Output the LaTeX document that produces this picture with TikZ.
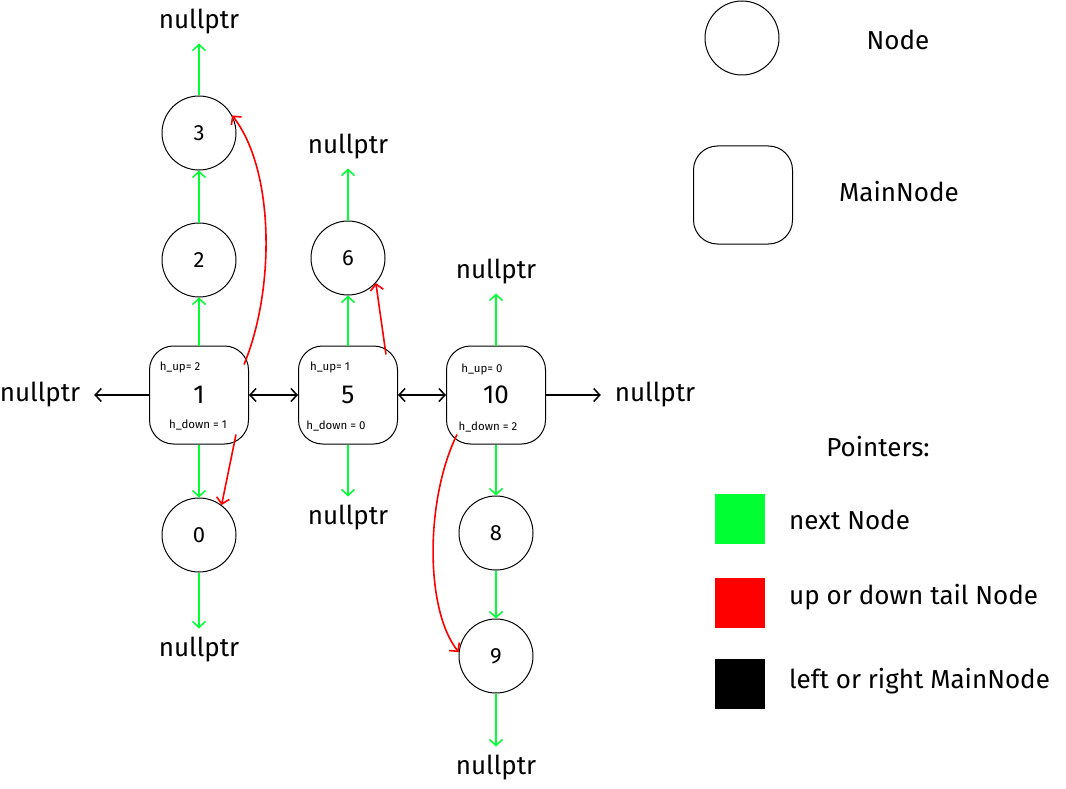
\documentclass[tikz,border=0pt]{standalone}
\usepackage{fontspec}
\setmainfont{Fira Sans}
\usetikzlibrary{arrows.meta,calc}
\definecolor{nextgreen}{HTML}{00FF33}
\definecolor{tailred}{HTML}{FF0000}

\begin{document}
\begin{tikzpicture}[
  x=1pt, y=-1pt,
  font=\fontsize{22}{26}\selectfont,
  node/.style={draw, line width=1pt, circle, minimum size=74pt, inner sep=0pt},
  mainnode/.style={draw, line width=1pt, rounded corners=24pt,
    minimum width=99pt, minimum height=98pt, inner sep=0pt, font=\fontsize{26}{30}\selectfont},
  null/.style={inner sep=0pt, outer sep=9pt, font=\fontsize{26}{30}\selectfont},
  info/.style={inner sep=0pt, font=\fontsize{11.5}{13}\selectfont},
  swatch/.style={minimum size=50pt, inner sep=0pt},
  keytext/.style={inner sep=0pt, font=\fontsize{26}{30}\selectfont},
  legend/.style={keytext, anchor=west},
  tip/.style={-{Straight Barb[length=6pt,width=13pt]}},
  next/.style={tip, draw=nextgreen, line width=1.5pt},
  tail/.style={tip, draw=tailred, line width=1.6pt},
  side/.style={{Straight Barb[length=6pt,width=13pt]}-{Straight Barb[length=6pt,width=13pt]}, line width=1.5pt},
  sidenull/.style={tip, line width=1.5pt}
]
  \useasboundingbox (0,0) rectangle (1066,789);

  \node[mainnode] (m1) at (199,395) {1};
  \node[mainnode] (m5) at (348,395) {5};
  \node[mainnode] (m10) at (496,395) {10};
  \node[info] at (180,367) {h\_up= 2};
  \node[info] at (198,425) {h\_down = 1};
  \node[info] at (330,367) {h\_up= 1};
  \node[info] at (336,426) {h\_down = 0};
  \node[info] at (482,369) {h\_up= 0};
  \node[info] at (488,427) {h\_down = 2};

  \node[node] (n2) at (199,260) {2};
  \node[node] (n3) at (199,133) {3};
  \node[node] (n0) at (199,535) {0};
  \node[node] (n6) at (348,258) {6};
  \node[node] (n8) at (496,533) {8};
  \node[node] (n9) at (496,656) {9};

  \node[null] (null3) at (199,22) {nullptr};
  \node[null] (null6) at (348,147) {nullptr};
  \node[null] (null10) at (496,272) {nullptr};
  \node[null, outer sep=14pt] (nullL) at (40,395) {nullptr};
  \node[null, outer sep=14pt] (nullR) at (655,395) {nullptr};
  \node[null] (null5) at (348,518) {nullptr};
  \node[null] (null0) at (199,650) {nullptr};
  \node[null] (null9) at (496,768) {nullptr};

  \draw[side] (m1) -- (m5);
  \draw[side] (m5) -- (m10);
  \draw[sidenull] (m1.west) -- (nullL.east);
  \draw[sidenull] (m10.east) -- (nullR.west);

  \draw[next] (m1) -- (n2);
  \draw[next] (n2) -- (n3);
  \draw[next] (n3) -- (null3);
  \draw[next] (m1) -- (n0);
  \draw[next] (n0) -- (null0);
  \draw[next] (m5) -- (n6);
  \draw[next] (n6) -- (null6);
  \draw[next] (m5) -- (null5);
  \draw[next] (m10) -- (null10);
  \draw[next] (m10) -- (n8);
  \draw[next] (n8) -- (n9);
  \draw[next] (n9) -- (null9);

  \draw[tail] ([shift={(-5,19)}]m1.north east) .. controls (275,290) and (275,170) .. (n3.28);
  \draw[tail] ([shift={(-13,-10)}]m1.south east) -- (n0.53);
  \draw[tail] ([shift={(-12,9)}]m5.north east) -- (n6.-42);
  \draw[tail] ([shift={(11,-10)}]m10.south west) .. controls (425,500) and (425,610) .. (n9.174);

  \node[node] (keynode) at (742,38) {};
  \node[keytext] (keynodetext) at (898,40) {Node};
  \node[mainnode] (keymain) at (743,195) {};
  \node[keytext] (keymaintext) at (899,192) {MainNode};

  \node[keytext] (pointers) at (878,447) {Pointers:};
  \node[swatch, fill=nextgreen] (keynext) at (740,519) {};
  \node[swatch, fill=tailred] (keytail) at (740,603) {};
  \node[swatch, fill=black] (keyside) at (740,684) {};
  \node[legend] at (789,520) {next Node};
  \node[legend] at (789,597) {up or down tail Node};
  \node[legend] at (789,681) {left or right MainNode};
\end{tikzpicture}
\end{document}
